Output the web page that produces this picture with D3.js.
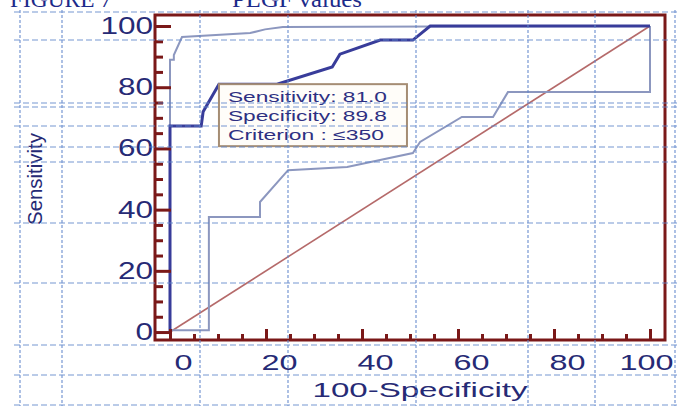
<!DOCTYPE html>
<html>
<head>
<meta charset="utf-8">
<script src="https://cdn.jsdelivr.net/npm/d3@7.9.0/dist/d3.min.js"></script>
<style>
  body { margin: 0; background: #fff; }
  svg { display: block; }
</style>
</head>
<body>
<div id="chart"></div>
<script>
// ROC curve (100-Specificity, Sensitivity)
const rocX = [0, 0, 6.5, 6.9, 10.2, 22.3, 33.8, 35.4, 43.8, 50.6, 54.2, 100];
const rocY = [0, 67.3, 67.3, 72.0, 81.0, 81.0, 86.6, 90.8, 95.4, 95.4, 100, 100];

// upper and lower confidence bounds
const upperX = [0, 0, 0.8, 0.8, 2.5, 16.7, 19.8, 23.5, 100];
const upperY = [0, 89.0, 89.0, 90.5, 96.4, 97.7, 98.9, 99.7, 100];
const lowerX = [0, 8.1, 8.1, 18.75, 18.75, 24.6, 36.9, 50.6, 52.1, 60.8, 67.3, 70.4, 100, 100];
const lowerY = [0.6, 0.6, 37.6, 37.6, 42.5, 52.9, 53.9, 58.5, 62.1, 70.3, 70.3, 78.4, 78.4, 100];

// reference diagonal
const diagX = [0, 100];
const diagY = [0, 100];

const majorTicks = [0, 20, 40, 60, 80, 100];
const minorTicks = d3.range(5, 100, 5).filter(d => d % 20 !== 0);

const criterion = { sens: 10.2, sensVal: 81.0, lines: ['Sensitivity: 81.0', 'Specificity: 89.8', 'Criterion : \u2264350'] };

// the scanned page's table borders (pixel positions, not data)
const pageRows = [12, 40, 103, 107, 126, 147, 162, 223, 283, 345, 375, 405];
const pageCols = [20, 62, 200, 288, 416, 528, 595, 675];

const width = 679;
const height = 408;
const frame = { left: 155, right: 665, top: 15, bottom: 340 };

const svg = d3.select('#chart').append('svg')
    .attr('width', width)
    .attr('height', height);

const xScale = d3.scaleLinear().domain([-3.125, 103.125]).range([frame.left, frame.right]);
const yScale = d3.scaleLinear().domain([-2.6, 103.6]).range([frame.bottom, frame.top]);

const axisRed = '#7a1818';
const navy = '#262a75';

// title, cut off at the top of the scan
svg.append('text').attr('x', 10).attr('y', 7)
    .attr('font-family', 'Liberation Serif, Times New Roman, serif')
    .attr('font-size', 24).attr('fill', '#1c2a8a')
    .attr('textLength', 102).attr('lengthAdjust', 'spacingAndGlyphs')
    .text('FIGURE 7');
svg.append('text').attr('x', 232).attr('y', 7)
    .attr('font-family', 'Liberation Serif, Times New Roman, serif')
    .attr('font-size', 24).attr('fill', '#1c2a8a')
    .attr('textLength', 130).attr('lengthAdjust', 'spacingAndGlyphs')
    .text('PLGF values');

// curves
const line = d3.line().x(d => xScale(d[0])).y(d => yScale(d[1]));

svg.append('path')
    .datum(d3.zip(diagX, diagY))
    .attr('d', line).attr('fill', 'none')
    .attr('stroke', '#b56a6a').attr('stroke-width', 1.6);

svg.append('path')
    .datum(d3.zip(lowerX, lowerY))
    .attr('d', line).attr('fill', 'none')
    .attr('stroke', '#8c97bf').attr('stroke-width', 2);

svg.append('path')
    .datum(d3.zip(upperX, upperY))
    .attr('d', line).attr('fill', 'none')
    .attr('stroke', '#8c97bf').attr('stroke-width', 2);

svg.append('path')
    .datum(d3.zip(rocX, rocY))
    .attr('d', line).attr('fill', 'none')
    .attr('stroke', '#383c9a').attr('stroke-width', 3);

// frame
svg.append('rect')
    .attr('x', frame.left).attr('y', frame.top)
    .attr('width', frame.right - frame.left).attr('height', frame.bottom - frame.top)
    .attr('fill', 'none').attr('stroke', axisRed).attr('stroke-width', 3);

// axes (ticks pointing inward)
const yAxis = svg.append('g')
    .attr('transform', `translate(${frame.left},0)`)
    .call(d3.axisLeft(yScale).tickValues(majorTicks).tickSizeInner(-16).tickSizeOuter(0).tickPadding(2));
const yMinor = svg.append('g')
    .attr('transform', `translate(${frame.left},0)`)
    .call(d3.axisLeft(yScale).tickValues(minorTicks).tickSize(-8).tickFormat(''));

const xAxis = svg.append('g')
    .attr('transform', `translate(0,${frame.bottom})`)
    .call(d3.axisBottom(xScale).tickValues(majorTicks).tickSizeInner(-11).tickSizeOuter(0).tickPadding(14));
const xMinor = svg.append('g')
    .attr('transform', `translate(0,${frame.bottom})`)
    .call(d3.axisBottom(xScale).tickValues(minorTicks).tickSize(-6).tickFormat(''));

[yAxis, yMinor, xAxis, xMinor].forEach(g => {
    g.select('.domain').remove();
    g.selectAll('.tick line').attr('stroke', axisRed).attr('stroke-width', 3);
});

yAxis.selectAll('.tick text')
    .attr('font-family', 'Liberation Sans, Arial, sans-serif')
    .attr('font-size', 23).attr('fill', navy)
    .attr('textLength', d => String(d).length * 17.5)
    .attr('lengthAdjust', 'spacingAndGlyphs');

xAxis.selectAll('.tick text')
    .attr('font-family', 'Liberation Sans, Arial, sans-serif')
    .attr('font-size', 22).attr('fill', navy)
    .attr('dx', d => d === 100 ? -4 : 13)
    .attr('textLength', d => String(d).length * 18)
    .attr('lengthAdjust', 'spacingAndGlyphs');

// axis titles
svg.append('text')
    .attr('transform', 'translate(42,179) rotate(-90)')
    .attr('text-anchor', 'middle')
    .attr('font-family', 'Liberation Sans, Arial, sans-serif')
    .attr('font-size', 21).attr('fill', navy)
    .attr('textLength', 92).attr('lengthAdjust', 'spacingAndGlyphs')
    .text('Sensitivity');

svg.append('text')
    .attr('x', 420).attr('y', 397)
    .attr('text-anchor', 'middle')
    .attr('font-family', 'Liberation Sans, Arial, sans-serif')
    .attr('font-size', 21).attr('fill', navy)
    .attr('textLength', 215).attr('lengthAdjust', 'spacingAndGlyphs')
    .text('100-Specificity');

// criterion box at the chosen cut-off
const bx = xScale(criterion.sens);
const by = yScale(criterion.sensVal);
const box = svg.append('g').attr('transform', `translate(${bx},${by})`);
box.append('rect')
    .attr('width', 188).attr('height', 62)
    .attr('fill', '#fffdf9').attr('stroke', '#a58d74').attr('stroke-width', 2);
box.selectAll('text')
    .data(criterion.lines)
    .join('text')
    .attr('x', 9)
    .attr('y', (d, i) => 18 + i * 19)
    .attr('font-family', 'Liberation Sans, Arial, sans-serif')
    .attr('font-size', 14.5).attr('fill', '#2e3082')
    .attr('textLength', (d, i) => i === 2 ? 156 : 159)
    .attr('lengthAdjust', 'spacingAndGlyphs')
    .text(d => d);

// dashed table borders of the scanned page, over everything
const page = svg.append('g')
    .attr('stroke', '#5f86cc').attr('stroke-width', 1.2)
    .attr('opacity', 0.85).attr('fill', 'none');
page.selectAll('line.row')
    .data(pageRows)
    .join('line').attr('class', 'row')
    .attr('x1', 14).attr('x2', width)
    .attr('y1', d => d).attr('y2', d => d)
    .attr('stroke-dasharray', '6,3');
page.selectAll('line.col')
    .data(pageCols)
    .join('line').attr('class', 'col')
    .attr('y1', 10).attr('y2', 406)
    .attr('x1', d => d).attr('x2', d => d)
    .attr('stroke-dasharray', '3,2');
</script>
</body>
</html>
